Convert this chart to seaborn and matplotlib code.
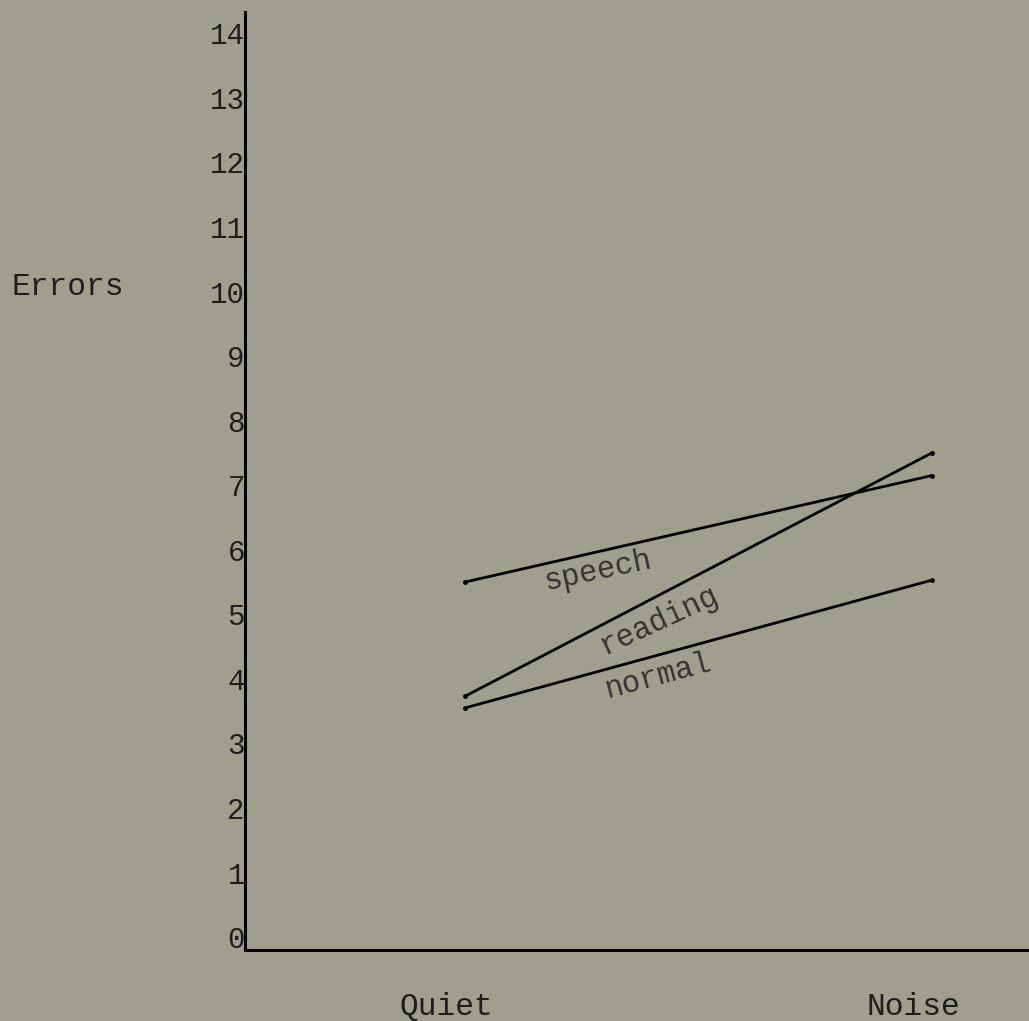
import pandas as pd
import matplotlib
matplotlib.use("Agg")
import matplotlib.pyplot as plt
import seaborn as sns

# values
conditions = ["Quiet", "Noise"]
groups = ["speech", "reading", "normal"]
speech = [5.5, 7.15]
reading = [3.73, 7.5]
normal = [3.55, 5.53]
y_ticks = list(range(0, 15))

rows = []
for g, vals in zip(groups, [speech, reading, normal]):
    for i, v in enumerate(vals):
        rows.append({"group": g, "pos": i, "condition": conditions[i], "errors": v})
df = pd.DataFrame(rows)

bg = "#a09e8d"
sns.set_style("white", {"axes.facecolor": bg, "figure.facecolor": bg})
plt.rcParams["font.family"] = ["Liberation Mono", "DejaVu Sans Mono"]

fig = plt.figure(figsize=(10.29, 10.21), dpi=100)
ax = fig.add_axes([0.238, 0.0695, 0.762, 0.9187])

sns.lineplot(data=df, x="pos", y="errors", hue="group", units="group", estimator=None,
             palette={g: "black" for g in groups}, legend=False, ax=ax,
             linewidth=2.0, marker="o", markersize=3.5, markeredgewidth=0)

ax.set_xlim(-0.471, 1.208)
ax.set_ylim(-0.2, 14.33)
ax.set_yticks(y_ticks)
ax.set_yticklabels([str(t) for t in y_ticks], fontsize=21, color="#1e1e1e")
ax.set_xticks([-0.04, 0.96])
ax.set_xticklabels(conditions, fontsize=22.5, color="#1e1e1e")
ax.tick_params(axis="y", length=0, pad=0)
ax.tick_params(axis="x", length=0, pad=30)
ax.set_xlabel("")
ax.set_ylabel("")

for side in ["top", "right"]:
    ax.spines[side].set_visible(False)
for side in ["left", "bottom"]:
    ax.spines[side].set_color("black")
    ax.spines[side].set_linewidth(2.2)

# labels written along the lines
ax.text(0.285, 5.67, "speech", rotation=12, ha="center", va="center", fontsize=22, color="#333333")
ax.text(0.415, 4.91, "reading", rotation=25, ha="center", va="center", fontsize=22, color="#333333")
ax.text(0.413, 4.04, "normal", rotation=15, ha="center", va="center", fontsize=22, color="#333333")

fig.text(68 / 1029, 1 - 287 / 1021, "Errors", ha="center", va="center", fontsize=22.5, color="#1e1e1e")

fig.savefig("out.png", dpi=100, facecolor=bg)
